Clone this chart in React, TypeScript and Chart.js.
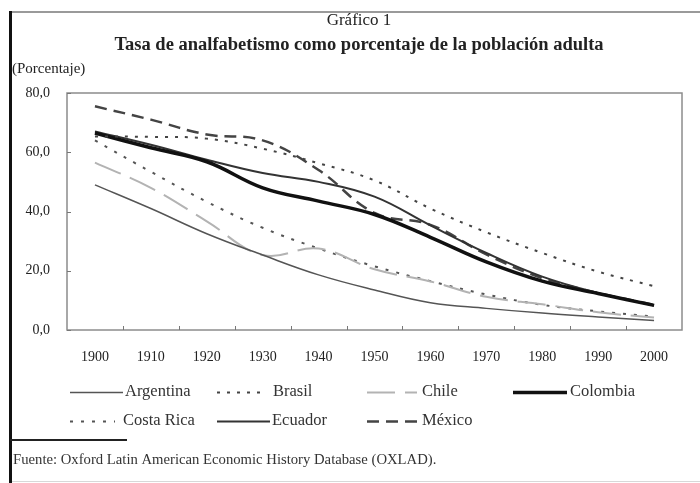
import React, { useEffect, useRef } from 'react';
import { Chart, registerables } from 'chart.js';

Chart.register(...registerables);

const YEARS = ['1900', '1910', '1920', '1930', '1940', '1950', '1960', '1970', '1980', '1990', '2000'];
const Y_TICK_VALUES = [0, 20, 40, 60, 80];

const ARGENTINA = [49, 41, 32.5, 25.3, 18.6, 13.5, 9.2, 7.3, 5.7, 4.4, 3.2];
const BRASIL = [65.3, 65.2, 64.6, 61.2, 56.3, 50.5, 41, 33, 26, 19.7, 14.8];
const CHILE = [56.5, 48, 36.7, 25.3, 27.5, 20.5, 16.4, 11.2, 8.7, 6, 4.2];
const COLOMBIA = [66.5, 61.5, 56.8, 48, 43.5, 39, 31.3, 23, 16.5, 12.3, 8.3];
const COSTA_RICA = [64, 53.4, 43.3, 34.5, 27.5, 21.5, 16.5, 12, 8.5, 6.3, 4.5];
const ECUADOR = [67, 62.5, 57.5, 53, 50, 45, 35.3, 26, 18, 12.5, 8.3];
const MEXICO = [75.5, 71, 66, 64, 54, 39.5, 35.5, 25.5, 17.5, 12.5, 8.5];

const TITLE_1 = 'Gráfico 1';
const TITLE_2 = 'Tasa de analfabetismo como porcentaje de la población adulta';
const UNIT = '(Porcentaje)';
const SOURCE = 'Fuente: Oxford Latin American Economic History Database (OXLAD).';

const SERIF = '"Liberation Serif", "Times New Roman", serif';

// legend layout: line start, line end, text x, row y
const LEGEND_POS = [
  { x1: 70, x2: 123, tx: 125, y: 392 },
  { x1: 217, x2: 267, tx: 273, y: 392 },
  { x1: 367, x2: 417, tx: 422, y: 392 },
  { x1: 513, x2: 567, tx: 570, y: 392 },
  { x1: 70, x2: 115, tx: 123, y: 421 },
  { x1: 217, x2: 270, tx: 272, y: 421 },
  { x1: 367, x2: 417, tx: 422, y: 421 },
];

const decorPlugin = {
  id: 'decor',
  afterDraw(chart: any) {
    const ctx = chart.ctx as CanvasRenderingContext2D;
    const area = chart.chartArea;
    ctx.save();

    // outer frame
    ctx.strokeStyle = '#9a9a9a';
    ctx.lineWidth = 2;
    ctx.beginPath();
    ctx.moveTo(10, 12);
    ctx.lineTo(700, 12);
    ctx.stroke();
    ctx.strokeStyle = '#d8d8d8';
    ctx.lineWidth = 1;
    ctx.beginPath();
    ctx.moveTo(10, 481.5);
    ctx.lineTo(700, 481.5);
    ctx.stroke();
    ctx.strokeStyle = '#111';
    ctx.lineWidth = 3;
    ctx.beginPath();
    ctx.moveTo(10.5, 11);
    ctx.lineTo(10.5, 483);
    ctx.stroke();

    // plot border
    ctx.strokeStyle = '#8c8c8c';
    ctx.lineWidth = 1.5;
    ctx.strokeRect(area.left, area.top, area.right - area.left, area.bottom - area.top);

    // inward ticks
    const xs = chart.scales.x;
    const ys = chart.scales.y;
    ctx.strokeStyle = '#777';
    ctx.lineWidth = 1;
    ctx.beginPath();
    for (let i = 1; i < YEARS.length; i++) {
      const px = Math.round((xs.getPixelForValue(i - 1) + xs.getPixelForValue(i)) / 2) + 0.5;
      ctx.moveTo(px, area.bottom);
      ctx.lineTo(px, area.bottom - 4);
    }
    Y_TICK_VALUES.forEach((v) => {
      const py = Math.round(ys.getPixelForValue(v)) + 0.5;
      ctx.moveTo(area.left, py);
      ctx.lineTo(area.left + 4, py);
    });
    ctx.stroke();

    // titles
    ctx.fillStyle = '#222';
    ctx.textAlign = 'center';
    ctx.textBaseline = 'middle';
    ctx.font = `17px ${SERIF}`;
    ctx.fillText(TITLE_1, 359, 21);
    ctx.font = `bold 18.5px ${SERIF}`;
    ctx.fillText(TITLE_2, 359, 45);
    ctx.textAlign = 'left';
    ctx.font = `15px ${SERIF}`;
    ctx.fillText(UNIT, 12, 69);

    // legend
    chart.data.datasets.forEach((ds: any, i: number) => {
      const p = LEGEND_POS[i];
      if (!p) return;
      ctx.save();
      ctx.strokeStyle = ds.borderColor;
      ctx.lineWidth = ds.borderWidth;
      ctx.setLineDash(ds.borderDash || []);
      ctx.beginPath();
      ctx.moveTo(p.x1, p.y + 0.5);
      ctx.lineTo(p.x2, p.y + 0.5);
      ctx.stroke();
      ctx.restore();
      ctx.fillStyle = '#333';
      ctx.font = `16.5px ${SERIF}`;
      ctx.textBaseline = 'middle';
      ctx.fillText(ds.label, p.tx, p.y);
    });

    // source rule + text
    ctx.strokeStyle = '#222';
    ctx.lineWidth = 2;
    ctx.setLineDash([]);
    ctx.beginPath();
    ctx.moveTo(10, 440);
    ctx.lineTo(127, 440);
    ctx.stroke();
    ctx.fillStyle = '#333';
    ctx.font = `14.7px ${SERIF}`;
    ctx.fillText(SOURCE, 13, 460);

    ctx.restore();
  },
};

export default function App() {
  const ref = useRef<HTMLCanvasElement>(null);

  useEffect(() => {
    document.body.style.margin = '0';
    if (!ref.current) return;
    const chart = new Chart(ref.current, {
      type: 'line',
      data: {
        labels: YEARS,
        datasets: [
          { label: 'Argentina', data: ARGENTINA, borderColor: '#555555', borderWidth: 1.5, borderDash: [] },
          { label: 'Brasil', data: BRASIL, borderColor: '#444444', borderWidth: 2, borderDash: [3, 7] },
          { label: 'Chile', data: CHILE, borderColor: '#b3b3b3', borderWidth: 2, borderDash: [28, 10] },
          { label: 'Colombia', data: COLOMBIA, borderColor: '#111111', borderWidth: 3.5, borderDash: [] },
          { label: 'Costa Rica', data: COSTA_RICA, borderColor: '#555555', borderWidth: 2, borderDash: [3, 8] },
          { label: 'Ecuador', data: ECUADOR, borderColor: '#333333', borderWidth: 2, borderDash: [] },
          { label: 'México', data: MEXICO, borderColor: '#444444', borderWidth: 2.5, borderDash: [12, 7] },
        ],
      },
      options: {
        responsive: false,
        animation: false,
        layout: { padding: { top: 93, right: 18, left: 0, bottom: 0 } },
        elements: {
          point: { radius: 0, hoverRadius: 0 },
          line: { tension: 0.4, fill: false, borderCapStyle: 'butt' },
        },
        plugins: {
          legend: { display: false },
          tooltip: { enabled: false },
          title: { display: false },
        },
        scales: {
          x: {
            type: 'category',
            offset: true,
            grid: { display: false, offset: true },
            border: { display: false },
            ticks: {
              autoSkip: false,
              maxRotation: 0,
              padding: 11,
              color: '#222',
              font: { family: SERIF, size: 14 },
            },
            afterFit: (s: any) => {
              s.height = 153;
            },
          },
          y: {
            min: 0,
            max: 80,
            grid: { display: false },
            border: { display: false },
            afterBuildTicks: (s: any) => {
              s.ticks = Y_TICK_VALUES.map((v) => ({ value: v }));
            },
            ticks: {
              padding: 9,
              color: '#222',
              font: { family: SERIF, size: 14 },
              callback: (v: any) => Number(v).toFixed(1).replace('.', ','),
            },
            afterFit: (s: any) => {
              s.width = 67;
            },
          },
        },
      },
      plugins: [decorPlugin],
    } as any);
    return () => chart.destroy();
  }, []);

  return (
    <div style={{ width: 700, height: 483, background: '#fff', position: 'relative' }}>
      <canvas ref={ref} width={700} height={483} style={{ display: 'block', width: 700, height: 483 }} />
    </div>
  );
}
